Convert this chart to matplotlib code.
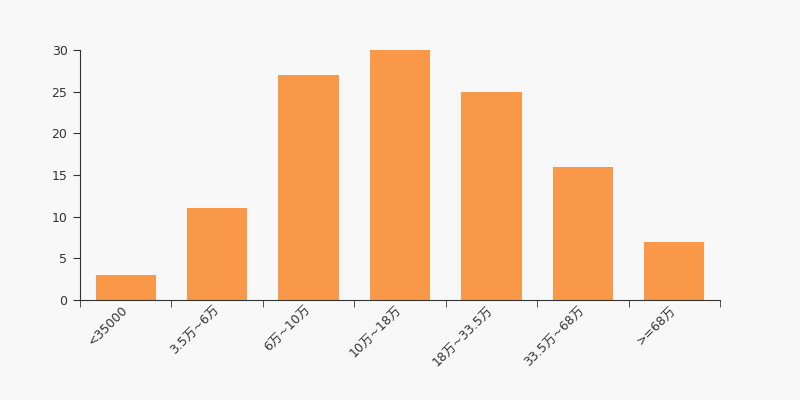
import matplotlib
matplotlib.use("Agg")
from matplotlib import pyplot as plt
import numpy as np

plt.rcParams["font.family"] = ["DejaVu Sans", "Noto Sans CJK SC"]

categories = ["<35000", "3.5万~6万", "6万~10万", "10万~18万", "18万~33.5万", "33.5万~68万", ">=68万"]
counts = [3, 11, 27, 30, 25, 16, 7]

bg = "#f8f8f8"
bar_color = "#f99848"
axis_color = "#333333"

fig = plt.figure(figsize=(8, 4), dpi=100, facecolor=bg)
ax = fig.add_axes([0.1, 0.25, 0.8, 0.625], facecolor=bg)

x = np.arange(len(categories))
ax.bar(x, counts, width=0.66, color=bar_color, zorder=2)

ax.set_xlim(-0.5, len(categories) - 0.5)
ax.set_ylim(0, 30)
ax.set_yticks([0, 5, 10, 15, 20, 25, 30])

ax.set_xticks(x)
ax.set_xticklabels(categories, rotation=45, ha="right", va="center", rotation_mode="anchor")
ax.set_xticks(np.arange(-0.5, len(categories)), minor=True)
ax.tick_params(axis="x", which="major", length=0, pad=6)
ax.tick_params(axis="x", which="minor", length=5, color=axis_color)
ax.tick_params(axis="y", length=5, color=axis_color, pad=4)
ax.tick_params(labelsize=9, labelcolor=axis_color)

for side in ["top", "right"]:
    ax.spines[side].set_visible(False)
for side in ["left", "bottom"]:
    ax.spines[side].set_color(axis_color)

fig.savefig("out.png", dpi=100, facecolor=bg)
